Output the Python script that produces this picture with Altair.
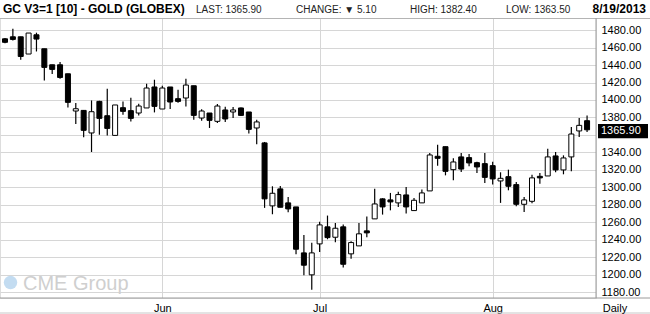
import altair as alt
import pandas as pd

# ---------------- data ----------------
opens = [1470.0, 1472.3, 1472.3, 1452.6, 1474.6, 1458.6, 1440.3, 1440.3, 1430.0, 1387.4,
         1388.1, 1362.3, 1398.4, 1382.0, 1359.5, 1391.2, 1387.8, 1385.1, 1390.9, 1414.9,
         1389.7, 1414.9, 1401.5, 1402.3, 1416.3, 1379.4, 1385.1, 1375.6, 1388.6, 1386.3,
         1390.9, 1386.3, 1368.0, 1350.9, 1278.9, 1298.3, 1282.3, 1277.7, 1225.1, 1200.0,
         1235.4, 1254.9, 1243.0, 1254.9, 1224.0, 1233.1, 1250.3, 1264.0, 1286.9, 1285.7,
         1282.3, 1291.4, 1273.5, 1282.3, 1296.0, 1335.6, 1346.6, 1320.3, 1334.9, 1334.1,
         1328.3, 1327.2, 1324.9, 1307.4, 1312.3, 1303.2, 1280.7, 1284.1, 1312.7, 1313.1,
         1336.0, 1320.0, 1334.9, 1364.6, 1376.3]
highs = [1471.0, 1481.5, 1472.3, 1476.6, 1477.0, 1458.6, 1440.3, 1443.4, 1430.0, 1396.6,
         1388.5, 1399.5, 1399.0, 1413.0, 1394.3, 1398.4, 1402.6, 1395.8, 1418.6, 1423.2,
         1416.3, 1414.9, 1411.8, 1424.3, 1416.3, 1389.3, 1385.1, 1395.4, 1392.3, 1392.0,
         1391.5, 1386.3, 1377.5, 1352.0, 1301.3, 1301.7, 1289.1, 1277.7, 1245.7, 1236.6,
         1260.6, 1267.8, 1259.4, 1257.5, 1238.4, 1259.4, 1266.6, 1298.6, 1287.6, 1293.7,
         1294.9, 1300.6, 1288.0, 1297.5, 1339.4, 1348.9, 1346.6, 1333.3, 1339.4, 1338.3,
         1329.5, 1339.4, 1329.5, 1317.3, 1320.3, 1306.3, 1289.1, 1314.6, 1316.6, 1344.3,
         1340.6, 1336.7, 1369.0, 1379.4, 1382.4]
lows = [1465.0, 1468.0, 1446.0, 1452.6, 1455.5, 1422.4, 1429.7, 1424.3, 1391.5, 1372.6,
        1357.3, 1340.5, 1360.3, 1359.5, 1359.5, 1383.2, 1375.5, 1382.4, 1390.9, 1385.8,
        1389.7, 1389.7, 1396.9, 1392.7, 1377.5, 1376.3, 1368.0, 1373.7, 1374.9, 1379.4,
        1381.7, 1361.8, 1349.3, 1276.6, 1269.3, 1277.3, 1271.6, 1223.5, 1199.5, 1182.9,
        1226.0, 1240.7, 1237.2, 1208.3, 1218.3, 1233.1, 1243.0, 1264.0, 1268.9, 1273.8,
        1277.7, 1270.1, 1273.5, 1282.3, 1296.0, 1324.9, 1313.8, 1308.1, 1317.7, 1324.1,
        1316.6, 1305.0, 1303.2, 1282.3, 1296.7, 1278.4, 1272.0, 1281.8, 1304.3, 1313.1,
        1317.3, 1315.0, 1318.4, 1357.7, 1363.5]
closes = [1466.0, 1469.3, 1449.8, 1476.6, 1469.7, 1437.3, 1435.0, 1425.8, 1397.3, 1390.0,
          1365.3, 1386.6, 1379.0, 1367.5, 1394.3, 1387.0, 1379.0, 1393.1, 1413.7, 1392.7,
          1413.7, 1397.7, 1398.4, 1417.1, 1382.4, 1387.4, 1376.7, 1393.1, 1378.3, 1388.6,
          1382.4, 1366.4, 1374.9, 1286.9, 1293.3, 1277.3, 1275.4, 1229.3, 1211.0, 1225.1,
          1257.1, 1242.6, 1253.3, 1212.1, 1236.9, 1246.9, 1248.0, 1281.1, 1277.7, 1283.4,
          1291.8, 1277.7, 1285.3, 1293.7, 1337.1, 1333.3, 1318.4, 1329.1, 1321.0, 1328.0,
          1323.4, 1311.5, 1309.7, 1310.4, 1301.3, 1280.7, 1285.7, 1310.9, 1310.9, 1334.9,
          1320.0, 1333.7, 1361.1, 1371.0, 1365.9]
holidays = ["2013-05-27", "2013-07-04"]
y_ticks = list(range(1180, 1481, 20))
symbol_title = "GC V3=1 [10] - GOLD (GLOBEX)"
interval_label = "Daily"
watermark = "CME Group"

days = [d for d in pd.bdate_range("2013-05-03", "2013-08-19")
        if d.strftime("%Y-%m-%d") not in holidays]

df = pd.DataFrame({"i": range(len(closes)), "date": [d.strftime("%Y-%m-%d") for d in days],
                   "o": opens, "h": highs, "l": lows, "c": closes})

month_idx = [k for k in range(1, len(days)) if days[k].month != days[k - 1].month]
month_lbl = [days[k].strftime("%b") for k in month_idx]
label_expr = " : ".join(f"datum.value == {k} ? '{m}'" for k, m in zip(month_idx, month_lbl)) + " : ''"

last = closes[-1]
change = closes[-1] - closes[-2]
arrow = "\u25BC" if change < 0 else "\u25B2"

# ---------------- layout ----------------
W, H = 596, 280
PAD_TOP = 18
FONT = "Liberation Sans, Arial, sans-serif"
GRID = "#d6d6d6"

x_scale = alt.Scale(domain=[0, 74.5], nice=False, zero=False)
y_scale = alt.Scale(domain=[1173.5, 1493.8], nice=False, zero=False)
x_axis = alt.Axis(values=month_idx, labelExpr=label_expr, grid=True, gridColor=GRID,
                  ticks=False, domain=False, labelPadding=4, labelFontSize=11,
                  labelFont=FONT, labelColor="#000", title=None, zindex=0)
y_axis = alt.Axis(orient="right", values=y_ticks, format=".2f", grid=True, gridColor=GRID,
                  ticks=False, domain=False, labelPadding=5, labelFontSize=11,
                  labelFont=FONT, labelColor="#000", title=None, zindex=0)

base = alt.Chart(df)
X = alt.X("i:Q", scale=x_scale, axis=x_axis)

wicks = base.mark_rule(color="black", strokeWidth=1.2, clip=True).encode(
    x=X, y=alt.Y("l:Q", scale=y_scale, axis=y_axis), y2="h:Q")

bodies = base.mark_bar(size=5, stroke="black", strokeWidth=1, clip=True).encode(
    x=X, y=alt.Y("o:Q", scale=y_scale, axis=y_axis), y2="c:Q",
    fill=alt.condition("datum.c >= datum.o", alt.value("white"), alt.value("black")))

last_df = df.tail(1)
last_box = alt.Chart(last_df).transform_calculate(
    b1="datum.c - 9.8", b2="datum.c + 6.7").mark_rect(color="black").encode(
    x=alt.value(598), x2=alt.value(648),
    y=alt.Y("b1:Q", scale=y_scale, axis=y_axis), y2="b2:Q")
last_txt = alt.Chart(last_df).transform_calculate(
    lab="format(datum.c, '.2f')").mark_text(
    align="left", baseline="middle", color="white", fontSize=11, font=FONT, dy=1.5).encode(
    x=alt.value(601), y=alt.Y("c:Q", scale=y_scale, axis=y_axis), text="lab:N")

one = pd.DataFrame({"k": [0]})


def label(text, x, y, size=10, weight="normal", align="left", font=FONT, color="#222",
          baseline="alphabetic"):
    return alt.Chart(one).mark_text(text=text, align=align, baseline=baseline, fontSize=size,
                                    fontWeight=weight, font=font, color=color).encode(
        x=alt.value(x), y=alt.value(y))


def hline(y, color, x1=0, x2=650):
    return alt.Chart(one).mark_rule(color=color, strokeWidth=1).encode(
        x=alt.value(x1), x2=alt.value(x2), y=alt.value(y))


header = [
    label(symbol_title, 3, -5, size=12, weight="bold", color="#000"),
    label(f"LAST: {last:.2f}", 196, -5.5, size=10),
    label(f"CHANGE: {arrow} {abs(change):.2f}", 296, -5.5, size=10),
    label(f"HIGH: {highs[-1]:.2f}", 410, -5.5, size=10),
    label(f"LOW: {lows[-1]:.2f}", 506, -5.5, size=10),
    label(days[-1].strftime("%-m/%d/%Y"), 646, -5, size=12, weight="bold", align="right",
          color="#000"),
]

lines = [
    hline(0.5, "#b4b4b4"),
    hline(280, "#9a9a9a"),
    hline(295, "#c8c8c8"),
    alt.Chart(one).mark_rule(color="#9a9a9a", strokeWidth=1).encode(
        x=alt.value(596), y=alt.value(0), y2=alt.value(280)),
]

globe = alt.Chart(one).mark_point(filled=True, size=180, color="#bcd8ef", opacity=0.9).encode(
    x=alt.value(10.5), y=alt.value(264.5))
wm_text = label(watermark, 23, 272, size=20, color="#cfcfcf")
daily = label(interval_label, 615, 284.5, size=11, align="center", baseline="top", color="#000")

chart = alt.layer(
    globe, wm_text, wicks, bodies, last_box, last_txt, *lines, *header, daily
).properties(
    width=W, height=H,
    autosize=alt.AutoSizeParams(type="none"),
    padding={"left": 0, "top": PAD_TOP, "right": 54, "bottom": 16},
).configure_view(stroke=None).configure(background="white")

chart.save("out.html", embed_options={"renderer": "svg", "actions": False})
